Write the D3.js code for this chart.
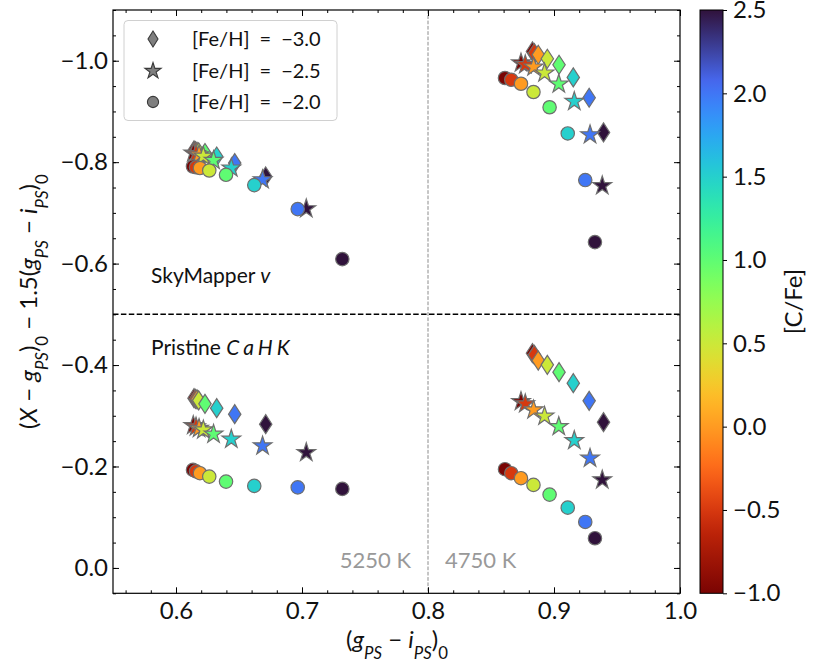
<!DOCTYPE html>
<html><head><meta charset="utf-8">
<script src="https://cdn.jsdelivr.net/npm/d3@7"></script>
<style>
body{margin:0;background:#fff;}
svg{display:block;font-family:Lato,"DejaVu Sans",sans-serif;}
</style>
</head><body>
<svg id="chart" width="829" height="661"></svg>
<script>
// ---------- data ----------
const cFe = [-1.0, -0.5, 0.0, 0.5, 1.0, 1.5, 2.0, 2.5];
const feLabels = ["[Fe/H]\u2002=\u2002\u22123.0", "[Fe/H]\u2002=\u2002\u22122.5", "[Fe/H]\u2002=\u2002\u22122.0"];

// (g-i)_0 at Teff = 5250 K
const gi5250_fe30 = [0.6143, 0.6155, 0.6167, 0.6180, 0.6230, 0.6323, 0.6466, 0.6712];
const gi5250_fe25 = [0.6137, 0.6159, 0.6183, 0.6217, 0.6298, 0.6439, 0.6687, 0.7034];
const gi5250_fe20 = [0.6135, 0.6159, 0.6190, 0.6264, 0.6397, 0.6621, 0.6966, 0.7320];
// (g-i)_0 at Teff = 4750 K
const gi4750_fe30 = [0.8829, 0.8844, 0.8875, 0.8947, 0.9040, 0.9153, 0.9279, 0.9393];
const gi4750_fe25 = [0.8738, 0.8772, 0.8838, 0.8925, 0.9038, 0.9161, 0.9286, 0.9383];
const gi4750_fe20 = [0.8611, 0.8661, 0.8738, 0.8837, 0.8965, 0.9109, 0.9248, 0.9325];

// SkyMapper v index
const v5250_fe30 = [-0.8231, -0.8219, -0.8205, -0.8195, -0.8180, -0.8112, -0.7982, -0.7718];
const v5250_fe25 = [-0.8180, -0.8166, -0.8146, -0.8117, -0.8034, -0.7884, -0.7653, -0.7081];
const v5250_fe20 = [-0.7915, -0.7900, -0.7884, -0.7836, -0.7751, -0.7548, -0.7075, -0.6089];
const v4750_fe30 = [-1.0183, -1.0152, -1.0118, -1.0039, -0.9921, -0.9671, -0.9270, -0.8586];
const v4750_fe25 = [-0.9955, -0.9921, -0.9876, -0.9757, -0.9540, -0.9197, -0.8540, -0.7535];
const v4750_fe20 = [-0.9659, -0.9625, -0.9546, -0.9383, -0.9083, -0.8566, -0.7647, -0.6424];

// Pristine CaHK index
const ca5250_fe30 = [-0.3347, -0.3333, -0.3323, -0.3304, -0.3235, -0.3150, -0.3032, -0.2834];
const ca5250_fe25 = [-0.2807, -0.2781, -0.2751, -0.2722, -0.2637, -0.2538, -0.2406, -0.2274];
const ca5250_fe20 = [-0.1933, -0.1903, -0.1868, -0.1801, -0.1702, -0.1617, -0.1588, -0.1558];
const ca4750_fe30 = [-0.4235, -0.4201, -0.4089, -0.4004, -0.3860, -0.3643, -0.3294, -0.2874];
const ca4750_fe25 = [-0.3280, -0.3235, -0.3116, -0.2992, -0.2787, -0.2511, -0.2164, -0.1736];
const ca4750_fe20 = [-0.1947, -0.1868, -0.1769, -0.1637, -0.1446, -0.1189, -0.0907, -0.0586];

const xTicks = [0.6, 0.7, 0.8, 0.9, 1.0];
const yTicks = [-1.0, -0.8, -0.6, -0.4, -0.2, 0.0];
const cTicks = [-1.0, -0.5, 0.0, 0.5, 1.0, 1.5, 2.0, 2.5];
const panelLabels = ["SkyMapper", "Pristine"];
const tempLabels = ["5250 K", "4750 K"];

// ---------- layout ----------
const L = 113, R = 680, T = 10, B = 593.3;
const svg = d3.select("#chart");
const x = d3.scaleLinear().domain([0.55, 1.0]).range([L, R]);
const y = d3.scaleLinear().domain([-1.1, 0.05]).range([T, B]);
const cmin = -1.0, cmax = 2.5;
// turbo (reversed), with matplotlib-like end colours
function turbo(t) {
  if (t < 0.12) return d3.interpolateRgb("#30123b", d3.interpolateTurbo(0.12))(t / 0.12);
  if (t > 0.9) return d3.interpolateRgb(d3.interpolateTurbo(0.9), "#7a0403")((t - 0.9) / 0.1);
  return d3.interpolateTurbo(t);
}
const color = c => turbo(1 - (c - cmin) / (cmax - cmin));
const fmt = d => d3.format(".1f")(d).replace("-", "\u2212");

// ---------- shapes ----------
function starPath(R0) {
  const r0 = R0 * 0.381966; let p = "";
  for (let i = 0; i < 10; i++) {
    const a = -Math.PI / 2 + i * Math.PI / 5;
    const rr = i % 2 === 0 ? R0 : r0;
    p += (i ? "L" : "M") + (rr * Math.cos(a)).toFixed(2) + "," + (rr * Math.sin(a)).toFixed(2);
  }
  return p + "Z";
}
function diamondPath(h, w) { return `M0,${-h}L${w},0L0,${h}L${-w},0Z`; }
function circlePath(r) { return `M${r},0A${r},${r} 0 1,1 ${-r},0A${r},${r} 0 1,1 ${r},0Z`; }
const shapes = [diamondPath(9.5, 6.2), starPath(9.8), circlePath(6.7)];
const legendShapes = [diamondPath(8, 5), starPath(8.5), circlePath(5.6)];

// ---------- guide lines ----------
svg.append("line").attr("x1", x(0.8)).attr("x2", x(0.8)).attr("y1", T).attr("y2", B)
  .attr("stroke", "#8c8c8c").attr("stroke-width", 1).attr("stroke-dasharray", "3.7,1.6");
svg.append("line").attr("x1", L).attr("x2", R).attr("y1", y(-0.5)).attr("y2", y(-0.5))
  .attr("stroke", "#000").attr("stroke-width", 1.5).attr("stroke-dasharray", "5.5,2.4");

// ---------- markers ----------
const groups = [
  [gi5250_fe30, v5250_fe30, 0], [gi5250_fe25, v5250_fe25, 1], [gi5250_fe20, v5250_fe20, 2],
  [gi4750_fe30, v4750_fe30, 0], [gi4750_fe25, v4750_fe25, 1], [gi4750_fe20, v4750_fe20, 2],
  [gi5250_fe30, ca5250_fe30, 0], [gi5250_fe25, ca5250_fe25, 1], [gi5250_fe20, ca5250_fe20, 2],
  [gi4750_fe30, ca4750_fe30, 0], [gi4750_fe25, ca4750_fe25, 1], [gi4750_fe20, ca4750_fe20, 2]
];
const mk = svg.append("g");
groups.forEach(([xs, ys, s]) => {
  mk.selectAll(null).data(cFe.map((c, i) => ({c, gx: xs[i], gy: ys[i]}))).enter()
    .append("path").attr("d", shapes[s])
    .attr("transform", d => `translate(${x(d.gx)},${y(d.gy)})`)
    .attr("fill", d => color(d.c)).attr("stroke", "#6e6e6e").attr("stroke-width", 1.2);
});

// ---------- axes ----------
function styleAxis(g) {
  g.select(".domain").remove();
  g.selectAll("line").attr("stroke", "#000").attr("stroke-width", 1);
  g.selectAll("text").attr("font-size", 24).attr("fill", "#111").attr("font-family", "Lato, 'DejaVu Sans', sans-serif");
}
const xMinor = d3.range(0.56, 1.0001, 0.02).map(v => +v.toFixed(2));
const yMinor = d3.range(-1.1, 0.0501, 0.05).map(v => +v.toFixed(2));

svg.append("g").attr("transform", `translate(0,${B})`)
  .call(d3.axisBottom(x).tickValues(xTicks).tickFormat(fmt).tickSizeInner(-6).tickSizeOuter(0).tickPadding(9)).call(styleAxis);
svg.append("g").attr("transform", `translate(0,${B})`)
  .call(d3.axisBottom(x).tickValues(xMinor).tickFormat("").tickSizeInner(-3).tickSizeOuter(0)).call(styleAxis);
svg.append("g").attr("transform", `translate(0,${T})`)
  .call(d3.axisTop(x).tickValues(xTicks).tickFormat("").tickSizeInner(-6).tickSizeOuter(0)).call(styleAxis);
svg.append("g").attr("transform", `translate(0,${T})`)
  .call(d3.axisTop(x).tickValues(xMinor).tickFormat("").tickSizeInner(-3).tickSizeOuter(0)).call(styleAxis);
svg.append("g").attr("transform", `translate(${L},0)`)
  .call(d3.axisLeft(y).tickValues(yTicks).tickFormat(fmt).tickSizeInner(-6).tickSizeOuter(0).tickPadding(5)).call(styleAxis);
svg.append("g").attr("transform", `translate(${L},0)`)
  .call(d3.axisLeft(y).tickValues(yMinor).tickFormat("").tickSizeInner(-3).tickSizeOuter(0)).call(styleAxis);
svg.append("g").attr("transform", `translate(${R},0)`)
  .call(d3.axisRight(y).tickValues(yTicks).tickFormat("").tickSizeInner(-6).tickSizeOuter(0)).call(styleAxis);
svg.append("g").attr("transform", `translate(${R},0)`)
  .call(d3.axisRight(y).tickValues(yMinor).tickFormat("").tickSizeInner(-3).tickSizeOuter(0)).call(styleAxis);

svg.append("rect").attr("x", L).attr("y", T).attr("width", R - L).attr("height", B - T)
  .attr("fill", "none").attr("stroke", "#000").attr("stroke-width", 1.2);

// ---------- axis labels ----------
function mathLabel(sel, parts) {
  parts.forEach(p => {
    const t = sel.append("tspan").text(p.t);
    if (p.i) t.attr("font-style", "italic");
    if (p.sub) t.attr("font-size", "0.7em").attr("baseline-shift", "sub");
  });
}
const xl = svg.append("text").attr("x", 397).attr("y", 648).attr("text-anchor", "middle")
  .attr("font-size", 24).attr("fill", "#111");
mathLabel(xl, [{t: "("}, {t: "g", i: 1}, {t: "PS", i: 1, sub: 1}, {t: " \u2212 "}, {t: "i", i: 1},
  {t: "PS", i: 1, sub: 1}, {t: ")"}, {t: "0", sub: 1}]);

const yl = svg.append("text").attr("transform", `translate(37,${(T + B) / 2}) rotate(-90)`)
  .attr("text-anchor", "middle").attr("font-size", 24).attr("fill", "#111");
mathLabel(yl, [{t: "("}, {t: "X", i: 1}, {t: " \u2212 "}, {t: "g", i: 1}, {t: "PS", i: 1, sub: 1}, {t: ")"},
  {t: "0", sub: 1}, {t: " \u2212 1.5("}, {t: "g", i: 1}, {t: "PS", i: 1, sub: 1}, {t: " \u2212 "},
  {t: "i", i: 1}, {t: "PS", i: 1, sub: 1}, {t: ")"}, {t: "0", sub: 1}]);

// ---------- panel & temperature labels ----------
const sm = svg.append("text").attr("x", 151).attr("y", 283).attr("font-size", 21).attr("fill", "#111");
sm.append("tspan").text(panelLabels[0] + " ");
sm.append("tspan").attr("font-style", "italic").text("v");
const pr = svg.append("text").attr("x", 151).attr("y", 355).attr("font-size", 21).attr("fill", "#111");
pr.append("tspan").text(panelLabels[1] + " ");
pr.append("tspan").attr("font-style", "italic").attr("letter-spacing", 4).text("CaHK");

svg.append("text").attr("x", 411).attr("y", 568).attr("text-anchor", "end")
  .attr("font-size", 22).attr("fill", "#999").text(tempLabels[0]);
svg.append("text").attr("x", 445).attr("y", 568)
  .attr("font-size", 22).attr("fill", "#999").text(tempLabels[1]);

// ---------- legend ----------
const lg = svg.append("g");
lg.append("rect").attr("x", 124).attr("y", 20.5).attr("width", 213).attr("height", 100).attr("rx", 4)
  .attr("fill", "#fff").attr("fill-opacity", 0.8).attr("stroke", "#d0d0d0").attr("stroke-width", 1);
const rowY = [39, 71, 102];
feLabels.forEach((lab, i) => {
  lg.append("path").attr("d", legendShapes[i]).attr("transform", `translate(153,${rowY[i]})`)
    .attr("fill", "#7f7f7f").attr("stroke", "#3a3a3a").attr("stroke-width", 1.1);
  lg.append("text").attr("x", 192).attr("y", rowY[i]).attr("dy", "0.35em")
    .attr("font-size", 20).attr("fill", "#111").text(lab);
});

// ---------- colorbar ----------
const cbL = 700, cbW = 23;
const cy = d3.scaleLinear().domain([cmin, cmax]).range([B, T]);
const defs = svg.append("defs");
const grad = defs.append("linearGradient").attr("id", "cbgrad").attr("x1", 0).attr("y1", 1).attr("x2", 0).attr("y2", 0);
d3.range(0, 1.0001, 0.02).forEach(t => {
  grad.append("stop").attr("offset", t).attr("stop-color", color(cmin + t * (cmax - cmin)));
});
svg.append("rect").attr("x", cbL).attr("y", T).attr("width", cbW).attr("height", B - T)
  .attr("fill", "url(#cbgrad)").attr("stroke", "#000").attr("stroke-width", 1);
svg.append("g").attr("transform", `translate(${cbL + cbW},0)`)
  .call(d3.axisRight(cy).tickValues(cTicks).tickFormat(fmt).tickSizeInner(4).tickSizeOuter(0).tickPadding(6))
  .call(styleAxis);
svg.append("text").attr("transform", `translate(802,${(T + B) / 2}) rotate(-90)`)
  .attr("text-anchor", "middle").attr("font-size", 24).attr("fill", "#111").text("[C/Fe]");
</script>
</body></html>
